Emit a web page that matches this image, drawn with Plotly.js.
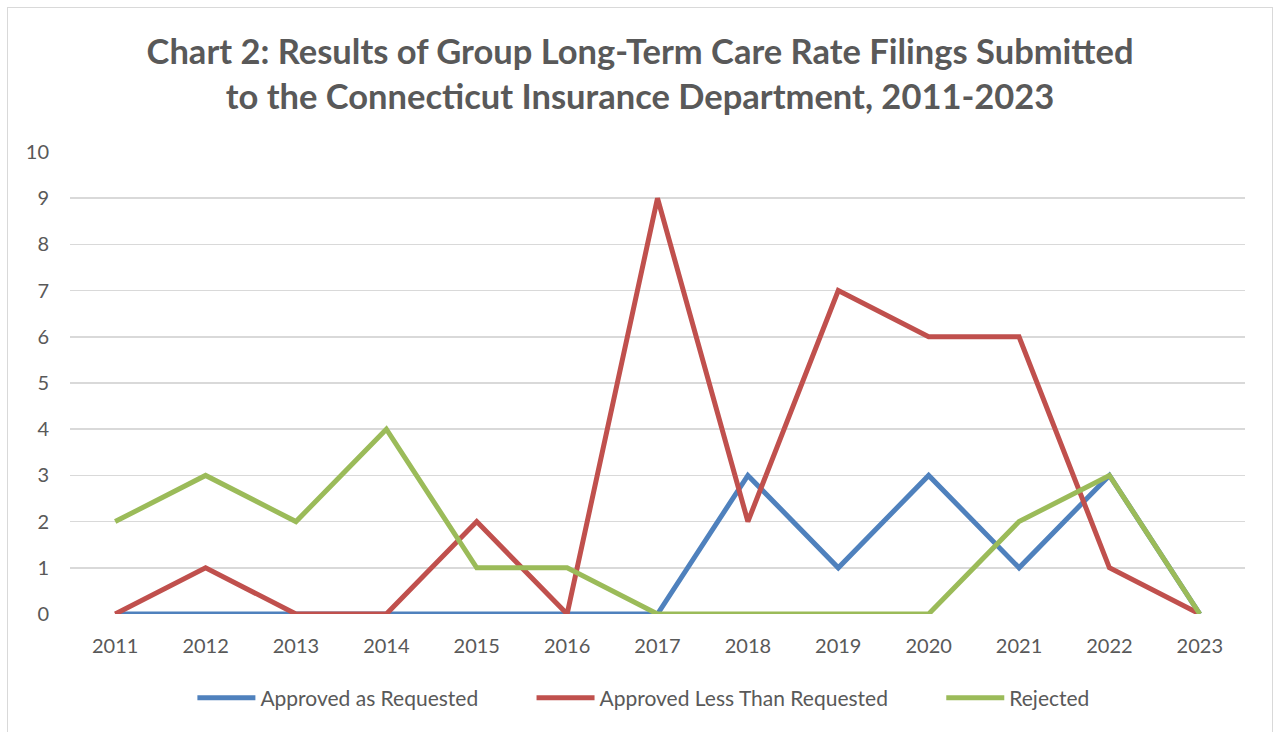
<!DOCTYPE html>
<html><head><meta charset="utf-8">
<script src="https://cdn.plot.ly/plotly-3.0.1.min.js"></script>
<style>
html,body{margin:0;padding:0;background:#fff;overflow:hidden}
#chart{width:1275px;height:732px}
#frame{position:absolute;left:7px;top:7px;width:1264px;height:740px;border:1px solid #d9d9d9;pointer-events:none}
</style></head>
<body>
<div id="chart"></div>
<div id="frame"></div>
<script>
const years = ['2011','2012','2013','2014','2015','2016','2017','2018','2019','2020','2021','2022','2023'];
const approvedAsRequested = [0,0,0,0,0,0,0,3,1,3,1,3,0];
const approvedLessThanRequested = [0,1,0,0,2,0,9,2,7,6,6,1,0];
const rejected = [2,3,2,4,1,1,0,0,0,0,2,3,0];
const seriesNames = ['Approved as Requested','Approved Less Than Requested','Rejected'];
const colors = ['#4f81bd','#c0504d','#9bbb59'];
const values = [approvedAsRequested, approvedLessThanRequested, rejected];

const pad = '\u00a0'.repeat(9);
const traces = values.map((v,i)=>({
  x: years, y: v, type:'scatter', mode:'lines',
  name: seriesNames[i] + (i < values.length-1 ? pad : ''),
  line:{color:colors[i], width:5}
}));

const layout = {
  width:1275, height:732,
  paper_bgcolor:'#fff', plot_bgcolor:'#fff',
  margin:{l:70, r:30, t:152, b:118},
  font:{family:'Lato, "Open Sans", sans-serif', color:'#595959', size:20},
  title:{text:'Chart 2: Results of Group Long-Term Care Rate Filings Submitted<br>to the Connecticut Insurance Department, 2011-2023',
    font:{family:'Lato, "Open Sans", sans-serif', size:34.5, color:'#595959', weight:'bold'},
    x:0.502, xanchor:'center', y:0.912, yanchor:'middle'},
  xaxis:{type:'category', range:[-0.5,12.5], showgrid:false, zeroline:false,
    showline:false, ticks:'', ticklabelstandoff:18, tickfont:{size:20,color:'#595959'}, fixedrange:true},
  yaxis:{range:[0,10], dtick:1, showgrid:true, gridcolor:'#d9d9d9', gridwidth:1.5,
    zeroline:false, showline:false, ticks:'', ticklabelstandoff:20,
    tickfont:{size:20,color:'#595959'}, fixedrange:true},
  showlegend:true,
  legend:{orientation:'h', x:0.488, xanchor:'center', y:-0.182, yanchor:'middle',
    font:{size:21,color:'#595959'}, itemwidth:58, tracegroupgap:0},
};
Plotly.newPlot('chart', traces, layout, {displayModeBar:false, staticPlot:true});
</script>
</body></html>
